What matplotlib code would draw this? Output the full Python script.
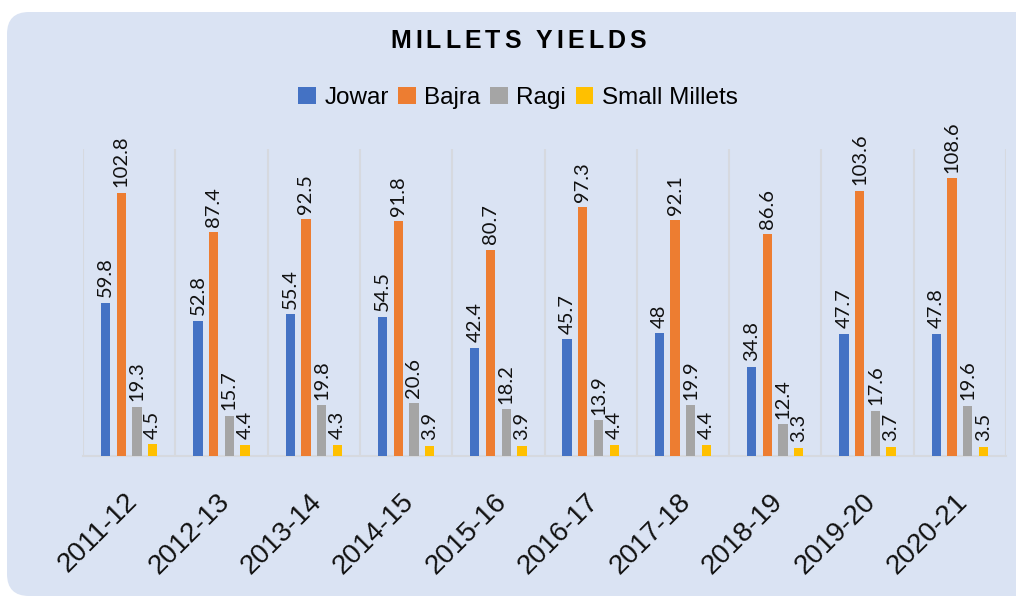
import matplotlib
matplotlib.use("Agg")
import matplotlib.pyplot as plt
import numpy as np
from matplotlib.patches import FancyBboxPatch, Patch
from matplotlib.transforms import IdentityTransform, ScaledTranslation
from matplotlib.font_manager import FontProperties

# ---- data ----
years = ["2011-12", "2012-13", "2013-14", "2014-15", "2015-16",
         "2016-17", "2017-18", "2018-19", "2019-20", "2020-21"]
jowar = [59.8, 52.8, 55.4, 54.5, 42.4, 45.7, 48, 34.8, 47.7, 47.8]
bajra = [102.8, 87.4, 92.5, 91.8, 80.7, 97.3, 92.1, 86.6, 103.6, 108.6]
ragi = [19.3, 15.7, 19.8, 20.6, 18.2, 13.9, 19.9, 12.4, 17.6, 19.6]
small_millets = [4.5, 4.4, 4.3, 3.9, 3.9, 4.4, 4.4, 3.3, 3.7, 3.5]
series_names = ["Jowar", "Bajra", "Ragi", "Small Millets"]
colors = ["#4472C4", "#ED7D31", "#A5A5A5", "#FFC000"]

W, H, DPI = 1016, 597, 100
fig = plt.figure(figsize=(W / DPI, H / DPI), dpi=DPI, facecolor="white")

# rounded chart-area background
bg = FancyBboxPatch((7, 1), 1060, 584,
                    boxstyle="round,pad=0,rounding_size=22",
                    transform=IdentityTransform(),
                    facecolor="#DAE3F3", edgecolor="none", zorder=-5)
fig.patches.append(bg)

ax = fig.add_axes([83 / W, 1 - 456 / H, (1006 - 83) / W, (456 - 149) / H])
ax.set_facecolor("none")
ax.set_zorder(2)

x = np.arange(len(years))
series = [jowar, bajra, ragi, small_millets]
offsets = [-0.255, -0.085, 0.085, 0.255]
bar_w = 0.1
label_font = FontProperties(family="Lato", size=14.5)
for vals, off, col in zip(series, offsets, colors):
    bars = ax.bar(x + off, vals, width=bar_w, color=col, zorder=3)
    for rect, v in zip(bars, vals):
        ax.annotate(f"{v:g}",
                    xy=(rect.get_x() + rect.get_width() / 2, rect.get_height()),
                    xytext=(0, 4), textcoords="offset points",
                    rotation=90, ha="center", va="bottom",
                    fontproperties=label_font, color="#111111")

ax.set_xlim(-0.5, len(years) - 0.5)
ax.set_ylim(0, 120)
ax.set_yticks([])
for b in np.arange(-0.5, len(years), 1.0):
    ax.axvline(b, color="#D6D9DF", lw=1.5, zorder=1)
for s in ["top", "left", "right"]:
    ax.spines[s].set_visible(False)
ax.spines["bottom"].set_color("#D6D9DF")
ax.spines["bottom"].set_linewidth(1.5)

ax.set_xticks(x)
ax.set_xticklabels(years, rotation=45, ha="right", va="center",
                   rotation_mode="anchor", fontsize=20,
                   family="Liberation Sans", color="#111111")
ax.tick_params(axis="x", length=0, pad=30)
shift = ScaledTranslation(4 / DPI, 0, fig.dpi_scale_trans)
for lbl in ax.get_xticklabels():
    lbl.set_transform(lbl.get_transform() + shift)

# legend
handles = [Patch(facecolor=c, edgecolor="none") for c in colors]
fig.legend(handles, series_names, loc="center", ncol=4,
           bbox_to_anchor=(518 / W, 1 - 98 / H),
           frameon=False, prop=FontProperties(family="Liberation Sans", size=17.5),
           handlelength=0.72, handleheight=0.72, handletextpad=0.35,
           columnspacing=0.4, borderaxespad=0, borderpad=0)

# letter-spaced bold title
title = "MILLETS YIELDS"
tfont = FontProperties(family="Liberation Sans", weight="bold", size=18)
renderer = fig.canvas.get_renderer()
gap = 4.0
widths = []
for ch in title:
    if ch == " ":
        widths.append(0.278 * 18 * DPI / 72)
    else:
        w, _, _ = renderer.get_text_width_height_descent(ch, tfont, ismath=False)
        widths.append(w)
total = sum(widths) + gap * (len(title) - 1)
xpos = 518 - total / 2
for ch, w in zip(title, widths):
    if ch != " ":
        fig.text(xpos / W, 1 - 41 / H, ch, fontproperties=tfont,
                 ha="left", va="center", color="#000000")
    xpos += w + gap

fig.savefig("out.png", dpi=DPI, facecolor="white")
